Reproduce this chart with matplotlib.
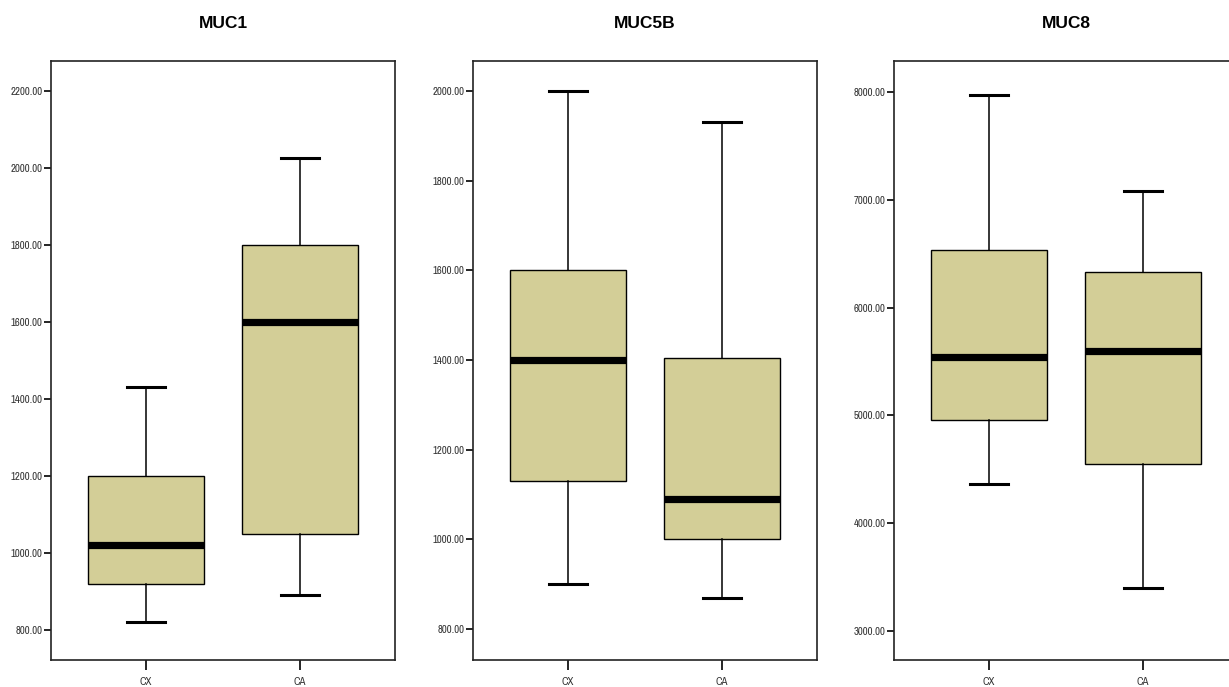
import matplotlib
matplotlib.use("Agg")
import matplotlib.pyplot as plt

titles = ["MUC1", "MUC5B", "MUC8"]
groups = ["CX", "CA"]

# five-number summaries per panel: [CX, CA]
whislo = [[822, 890], [900, 870], [4360, 3400]]
q1 = [[920, 1050], [1130, 1000], [4960, 4545]]
med = [[1020, 1600], [1400, 1090], [5540, 5595]]
q3 = [[1200, 1800], [1600, 1405], [6535, 6335]]
whishi = [[1430, 2025], [2000, 1930], [7970, 7080]]

yticks = [
    [800, 1000, 1200, 1400, 1600, 1800, 2000, 2200],
    [800, 1000, 1200, 1400, 1600, 1800, 2000],
    [3000, 4000, 5000, 6000, 7000, 8000],
]
ylims = [(722, 2278), (731, 2067), (2731, 8288)]

narrow = ["Archivo Narrow", "PT Sans Narrow", "DejaVu Sans"]
tick_fs = 7.8

fig = plt.figure(figsize=(12.29, 6.87), dpi=100)
W, H = 1229, 687
lefts = [51, 473, 894]
axw = 344
top, bottom = 61, 660

fill = "#D3CE97"
for i in range(3):
    ax = fig.add_axes([lefts[i] / W, (H - bottom) / H, axw / W, (bottom - top) / H])
    stats = []
    for j in range(2):
        stats.append(dict(whislo=whislo[i][j], q1=q1[i][j], med=med[i][j],
                          q3=q3[i][j], whishi=whishi[i][j], fliers=[], label=groups[j]))
    ax.bxp(stats, positions=[1, 2], widths=0.75, capwidths=0.25, patch_artist=True,
           showfliers=False,
           boxprops=dict(facecolor=fill, edgecolor="black", linewidth=1.0),
           medianprops=dict(color="black", linewidth=5.2, solid_capstyle="butt"),
           whiskerprops=dict(color="black", linewidth=1.1),
           capprops=dict(color="black", linewidth=2.2))
    ax.set_xlim(0.385, 2.615)
    ax.set_ylim(*ylims[i])
    ax.set_yticks(yticks[i])
    ax.set_yticklabels([f"{v:.2f}" for v in yticks[i]], fontfamily=narrow,
                       fontsize=tick_fs, color="#333333")
    ax.set_xticks([1, 2])
    ax.set_xticklabels(groups, fontfamily=narrow, fontsize=tick_fs, color="#333333")
    ax.tick_params(axis="y", direction="out", length=5, width=1.2, pad=1)
    ax.tick_params(axis="x", direction="out", length=7, width=1.2, pad=5.5)
    for s in ax.spines.values():
        s.set_linewidth(1.2)
        s.set_color("#222222")
    cx = (lefts[i] + axw / 2) / W
    fig.text(cx, 1 - 23 / H, titles[i], ha="center", va="center",
             fontsize=12.5, fontweight="bold", fontfamily="Liberation Sans")

fig.savefig("out.png", dpi=100)
